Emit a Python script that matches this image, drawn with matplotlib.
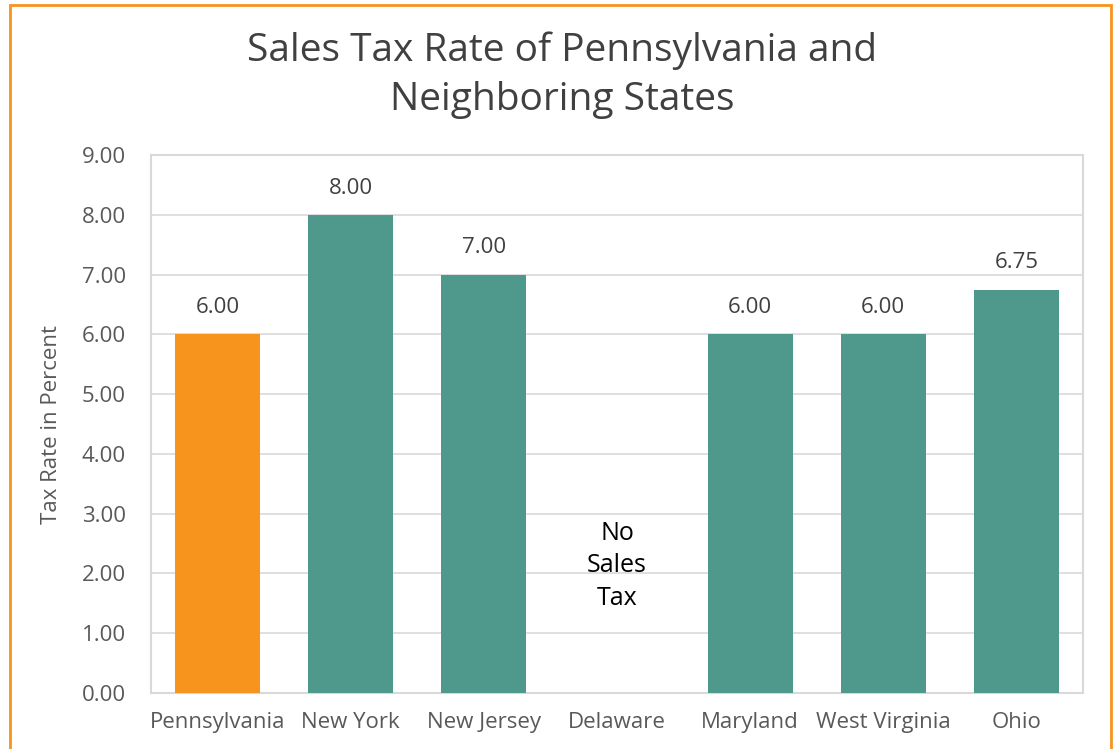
import matplotlib.pyplot as plt
from matplotlib.patches import Rectangle

states = ['Pennsylvania', 'New York', 'New Jersey', 'Delaware', 'Maryland', 'West Virginia', 'Ohio']
rates = [6.00, 8.00, 7.00, 0.0, 6.00, 6.00, 6.75]
labels = ['6.00', '8.00', '7.00', '', '6.00', '6.00', '6.75']
yticks = [0, 1, 2, 3, 4, 5, 6, 7, 8, 9]

plt.rcParams['font.family'] = ['Open Sans', 'DejaVu Sans']

orange = '#F7941E'
teal = '#4E998B'
colors = [orange] + [teal] * 6

fig = plt.figure(figsize=(11.13, 7.49), dpi=100)
ax = fig.add_axes([151/1113, 1 - 693/749, (1083 - 151)/1113, (693 - 155)/749])

x = range(len(states))
ax.bar(x, rates, width=0.64, color=colors, zorder=3)
for i, (v, t) in enumerate(zip(rates, labels)):
    if t:
        ax.text(i, v + 0.27, t, ha='center', va='bottom', fontsize=16, color='#404040')
ax.text(3, 2.13, 'No\nSales\nTax', ha='center', va='center', fontsize=18, color='black', linespacing=1.4)

ax.set_xlim(-0.5, len(states) - 0.5)
ax.set_ylim(0, 9)
ax.set_yticks(yticks)
ax.set_yticklabels([f'{t:.2f}' for t in yticks])
ax.set_xticks(list(x))
ax.set_xticklabels(states)
ax.tick_params(axis='both', length=0, labelsize=16, labelcolor='#595959')
ax.tick_params(axis='x', pad=14)
ax.tick_params(axis='y', pad=18)
ax.yaxis.grid(True, color='#D9D9D9', linewidth=1.2, zorder=0)
for s in ax.spines.values():
    s.set_color('#D9D9D9')
    s.set_linewidth(1.5)
ax.set_ylabel('Tax Rate in Percent', fontsize=16, color='#595959', labelpad=14)

fig.text(0.505, 1 - 75/749, 'Sales Tax Rate of Pennsylvania and\nNeighboring States',
         ha='center', va='center', fontsize=28, color='#404040', linespacing=1.38)

fig.patches.append(Rectangle((10/1113, -0.05), (1111 - 10)/1113, 0.05 + 1 - 5/749,
                             transform=fig.transFigure, fill=False, edgecolor=orange, linewidth=2))

fig.savefig('out.png', dpi=100)
